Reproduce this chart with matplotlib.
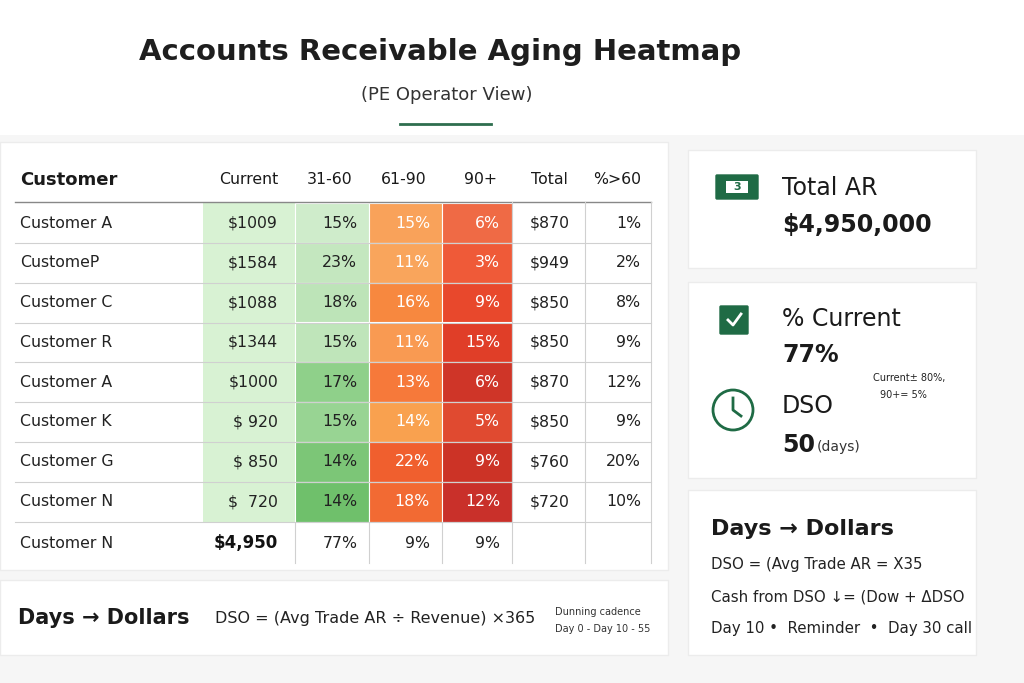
import matplotlib
matplotlib.use("Agg")
import matplotlib.pyplot as plt
from matplotlib.patches import Rectangle, Circle, FancyBboxPatch

customers = ["Customer A", "CustomeP", "Customer C", "Customer R", "Customer A",
             "Customer K", "Customer G", "Customer N"]
current = ["$1009", "$1584", "$1088", "$1344", "$1000", "$ 920", "$ 850", "$  720"]
d31_60 = [15, 23, 18, 15, 17, 15, 14, 14]
d61_90 = [15, 11, 16, 11, 13, 14, 22, 18]
d90p = [6, 3, 9, 15, 6, 5, 9, 12]
totals = ["$870", "$949", "$850", "$850", "$870", "$850", "$760", "$720"]
pct60 = [1, 2, 8, 9, 12, 9, 20, 10]
headers = ["Customer", "Current", "31-60", "61-90", "90+", "Total", "%>60"]
footer = ["Customer N", "$4,950", "77%", "9%", "9%", "", ""]

# cell shades (style)
g_col = ["#cfeccb", "#c4e7bf", "#bde4b8", "#bfe5ba", "#8fd08a", "#98d493", "#7cc677", "#6fc06b"]
o_col = ["#f9a25a", "#f9a55c", "#f7883f", "#f99a52", "#f6793a", "#f9a14f", "#f05f2e", "#f26a33"]
r_col = ["#ef6a45", "#ef5a38", "#e8482c", "#e03e28", "#cf3528", "#e04a30", "#cc3326", "#c9302a"]

fig = plt.figure(figsize=(10.24, 6.83), dpi=100)
fig.patch.set_facecolor("#f6f6f6")
ax = fig.add_axes([0, 0, 1, 1])
ax.set_xlim(0, 1024); ax.set_ylim(683, 0); ax.axis("off")

def panel(x, y, w, h):
    ax.add_patch(Rectangle((x, y), w, h, fc="white", ec="#ececec", lw=1))

ax.add_patch(Rectangle((0, 0), 1024, 135, fc="white", ec="none"))
ax.text(440, 52, "Accounts Receivable Aging Heatmap", ha="center", va="center", fontsize=21, fontweight="bold", color="#1e1e1e")
ax.text(447, 95, "(PE Operator View)", ha="center", va="center", fontsize=13, color="#333")
ax.plot([400, 491], [124, 124], color="#2e6e4e", lw=2)

panel(0, 142, 668, 428)
panel(0, 580, 668, 75)
panel(688, 150, 288, 118)
panel(688, 282, 288, 196)
panel(688, 490, 288, 165)

edges = [203, 295, 369, 442, 512, 585, 651]
row_y = [223 + 39.8 * i for i in range(8)]
rh = 40
fs = 11.3
hx = [20, 278, 352, 426, 497, 568, 641]
for i, h in enumerate(headers):
    ax.text(hx[i], 180, h, ha="left" if i == 0 else "right", va="center",
            fontsize=13 if i == 0 else fs, fontweight="bold" if i == 0 else "normal", color="#1a1a1a")
ax.plot([15, 651], [202, 202], color="#888", lw=1)

for r in range(8):
    y0 = row_y[r] - rh / 2
    ax.add_patch(Rectangle((edges[0], y0), edges[1] - edges[0], rh, fc="#d8f2d3", ec="none"))
    ax.add_patch(Rectangle((edges[1], y0), edges[2] - edges[1], rh, fc=g_col[r], ec="white", lw=0.8))
    ax.add_patch(Rectangle((edges[2], y0), edges[3] - edges[2], rh, fc=o_col[r], ec="white", lw=0.8))
    ax.add_patch(Rectangle((edges[3], y0), edges[4] - edges[3], rh, fc=r_col[r], ec="white", lw=0.8))
    ax.plot([15, 651], [y0 + rh, y0 + rh], color="#d0d0d0", lw=0.8)
    yy = row_y[r]
    ax.text(20, yy, customers[r], ha="left", va="center", fontsize=fs, color="#222")
    ax.text(278, yy, current[r], ha="right", va="center", fontsize=fs, color="#222")
    ax.text(357, yy, f"{d31_60[r]}%", ha="right", va="center", fontsize=fs, color="#222")
    ax.text(430, yy, f"{d61_90[r]}%", ha="right", va="center", fontsize=fs, color="white")
    ax.text(500, yy, f"{d90p[r]}%", ha="right", va="center", fontsize=fs, color="white")
    ax.text(570, yy, totals[r], ha="right", va="center", fontsize=fs, color="#222")
    ax.text(641, yy, f"{pct60[r]}%", ha="right", va="center", fontsize=fs, color="#222")
for x in [512, 585, 651]:
    ax.plot([x, x], [202, 563], color="#d0d0d0", lw=0.8)
for x in [295, 369, 442]:
    ax.plot([x, x], [523, 563], color="#d0d0d0", lw=0.8)

fy = 543
ax.text(20, fy, footer[0], ha="left", va="center", fontsize=fs, color="#222")
ax.text(278, fy, footer[1], ha="right", va="center", fontsize=12, fontweight="bold", color="#111")
ax.text(358, fy, footer[2], ha="right", va="center", fontsize=fs, color="#222")
ax.text(430, fy, footer[3], ha="right", va="center", fontsize=fs, color="#222")
ax.text(500, fy, footer[4], ha="right", va="center", fontsize=fs, color="#222")

ax.text(18, 618, "Days → Dollars", ha="left", va="center", fontsize=15, fontweight="bold", color="#1a1a1a")
ax.text(215, 618, "DSO = (Avg Trade AR ÷ Revenue) ×365", ha="left", va="center", fontsize=11.5, color="#222")
ax.text(555, 612, "Dunning cadence", ha="left", va="center", fontsize=7, color="#333")
ax.text(555, 629, "Day 0 - Day 10 - 55", ha="left", va="center", fontsize=7, color="#333")

g = "#1f6b45"
ax.add_patch(FancyBboxPatch((717, 176), 40, 22, boxstyle="round,pad=1", fc=g, ec=g))
ax.add_patch(Rectangle((726, 181), 22, 12, fc="white", ec="none"))
ax.text(737, 187, "3", ha="center", va="center", fontsize=8, fontweight="bold", color=g)
ax.text(782, 188, "Total AR", ha="left", va="center", fontsize=17, color="#1a1a1a")
ax.text(782, 225, "$4,950,000", ha="left", va="center", fontsize=17, fontweight="semibold", color="#1a1a1a")

ax.add_patch(FancyBboxPatch((721, 307), 26, 26, boxstyle="round,pad=1", fc=g, ec=g))
ax.plot([728, 733, 741], [320, 325, 314], color="white", lw=2)
ax.text(782, 319, "% Current", ha="left", va="center", fontsize=17, color="#1a1a1a")
ax.text(782, 355, "77%", ha="left", va="center", fontsize=17, fontweight="semibold", color="#1a1a1a")
ax.text(873, 378, "Current± 80%,", ha="left", va="center", fontsize=7, color="#222")
ax.text(880, 395, "90+= 5%", ha="left", va="center", fontsize=7, color="#222")
ax.add_patch(Circle((733, 410), 20, fc="white", ec=g, lw=2))
ax.plot([733, 733, 741], [398, 410, 416], color=g, lw=2)
ax.text(782, 406, "DSO", ha="left", va="center", fontsize=17, color="#1a1a1a")
ax.text(782, 445, "50", ha="left", va="center", fontsize=17, fontweight="semibold", color="#1a1a1a")
ax.text(817, 447, "(days)", ha="left", va="center", fontsize=10, color="#333")

ax.text(711, 529, "Days → Dollars", ha="left", va="center", fontsize=16, fontweight="semibold", color="#1a1a1a")
ax.text(711, 564, "DSO = (Avg Trade AR = X35", ha="left", va="center", fontsize=10.8, color="#222")
ax.text(711, 597, "Cash from DSO ↓= (Dow + ΔDSO", ha="left", va="center", fontsize=10.8, color="#222")
ax.text(711, 629, "Day 10 •  Reminder  •  Day 30 call", ha="left", va="center", fontsize=10.8, color="#222")

fig.savefig("out.png", dpi=100, facecolor=fig.get_facecolor())
